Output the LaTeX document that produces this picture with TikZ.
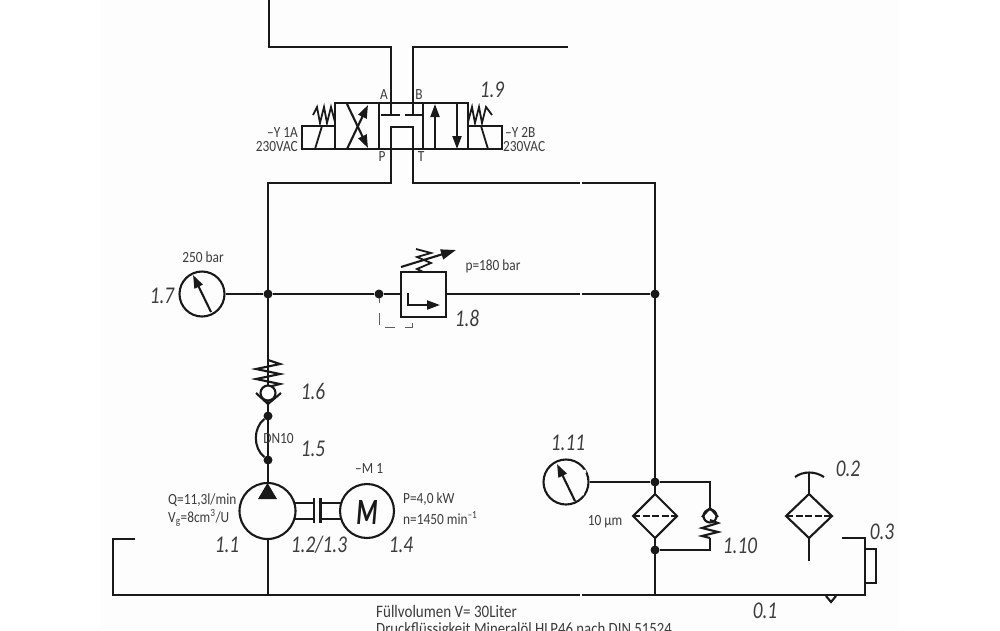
\documentclass[tikz,border=0pt]{standalone}
\usepackage{fontspec}
\setmainfont{Carlito}
\newfontfamily\narrowfont[FakeStretch=0.86]{Carlito}
\newfontfamily\numfont[FakeStretch=0.8]{Carlito}
\newfontfamily\motorfont[FakeStretch=0.66]{Carlito}
\usetikzlibrary{arrows.meta}
\definecolor{ink}{gray}{0.1}
\definecolor{paper}{gray}{0.992}
\tikzset{
  x=1pt,y=-1pt,
  wire/.style={line width=2.1pt,line cap=butt,line join=miter,color=ink},
  thin wire/.style={wire,line width=1.8pt},
  blob/.style={circle,fill=ink,inner sep=0pt,minimum size=9pt},
  sym/.style={circle,draw=ink,line width=2.1pt,inner sep=0pt},
  lab/.style={font=\narrowfont\fontsize{15.5}{15.5}\selectfont,color=ink!85,inner sep=0pt},
  num/.style={font=\numfont\itshape\fontsize{24}{24}\selectfont,color=ink!85,inner sep=0pt},
  tip/.style={-{Triangle[length=13pt,width=9pt]}},
  bigtip/.style={-{Triangle[length=15pt,width=10pt]}},
}
\begin{document}
\begin{tikzpicture}
\useasboundingbox (0,0) rectangle (1000,630);
\fill[white] (0,0) rectangle (1000,630);
\fill[paper] (100,0) rectangle (898,630);
% free ends and junctions
\coordinate (tl) at (269,0);
\coordinate (tr) at (568,47);
\coordinate (A) at (391,103);
\coordinate (B) at (413,103);
\coordinate (P) at (391,149);
\coordinate (T) at (413,149);
% lines to the valve
\draw[wire] (tl) |- (391,47) -- (A);
\draw[wire] (tr) -- (413,47) -- (B);
\draw[wire] (A) -- (391,115) (381,115) -- (400,115);
\draw[wire] (B) -- (413,115) (405,115) -- (422,115);
\draw[wire] (P) -- (391,127) -- (413,127) -- (T);
\draw[wire] (P) -- (391,183) -- (268,183) -- (268,595);
\draw[wire] (T) -- (413,183) -- (655,183) -- (655,595);
% valve
\node[draw=ink,line width=2.1pt,minimum width=133pt,minimum height=46pt,inner sep=0pt] (valve) at (401.5,126) {};
\draw[wire] (379,103) -- (379,149) (423,103) -- (423,149);
\draw[wire,tip] (347,149) -- (368,105);
\draw[wire,tip] (347,104) -- (368,148);
\draw[wire,tip] (435,149) -- (435,104);
\draw[wire,tip] (457,104) -- (457,149);
% solenoids
\draw[wire] (335,126) -- (302,126) -- (302,149) -- (335,149);
\draw[thin wire] (315,149) -- (322,126);
\draw[wire] (468,126) -- (502,126) -- (502,149) -- (468,149);
\draw[thin wire] (481,126) -- (488,149);
\draw[thin wire] (313,115) -- (317,107) -- (320,123) -- (324,107) -- (327,123) -- (331,107) -- (335,122);
\draw[thin wire] (468,122) -- (472,107) -- (475,123) -- (479,107) -- (482,123) -- (486,107) -- (492,115);
\node[lab] (la) at (384,95) {A};
\node[lab] (lb) at (419,95) {B};
\node[lab] (lp) at (382,157) {P};
\node[lab] (lt) at (421,157) {T};
\node[lab,anchor=east] (y1) at (298,133) {–Y 1A};
\node[lab,anchor=east] (y1v) at (298,147) {230VAC};
\node[lab,anchor=west] (y2) at (505,132) {–Y 2B};
\node[lab,anchor=west] (y2v) at (503,147) {230VAC};
\node[num] (n19) at (492,90) {1.9};
% main pressure line
\node[sym,minimum size=45pt] (g7) at (202,294) {};
\node[blob] (j1) at (268,294) {};
\node[blob] (j2) at (379,294) {};
\node[blob] (j3) at (655,294) {};
\node[draw=ink,line width=2.1pt,minimum width=45pt,minimum height=45pt,inner sep=0pt] (relief) at (423.5,294.5) {};
\draw[wire] (g7) -- (j1) -- (j2) -- (relief.west |- j2);
\draw[wire] (relief.east |- j2) -- (j3);
\draw[wire,tip] (211,312) -- (193,275);
\draw[wire,tip] (408,293) -- (408,305) -- (440,305);
\draw[thin wire] (423,272) -- (417,269) -- (431,263) -- (417,257) -- (431,253) -- (416,249);
\draw[wire,bigtip] (401,267) -- (456,250);
\draw[line width=1pt,color=ink!70] (379,298) -- (379,303) (379,313) -- (379,325) (385,327) -- (395,327) (405,327) -- (412,327) -- (412,323);
\node[lab] (p180) at (493,266) {p=180 bar};
\node[lab] (b250) at (203,257) {250 bar};
\node[num] (n17) at (162,296) {1.7};
\node[num] (n18) at (467,318) {1.8};
% check valve 1.6 and hose 1.5
\draw[wire] (268,360) -- (280,364) -- (256,369) -- (280,374) -- (256,379) -- (280,384) -- (268,387);
\node[sym,minimum size=15pt,fill=paper] (ball6) at (268,393) {};
\draw[wire] (256,393) -- (268,404) -- (281,393);
\node[blob] (h1) at (268,416) {};
\node[blob] (h2) at (268,460) {};
\draw[wire] (h1) .. controls (253,428) and (253,448) .. (h2);
\node[lab] (dn) at (278.5,439) {DN10};
\node[num] (n16) at (313,391) {1.6};
\node[num] (n15) at (313,449) {1.5};
% pump and motor
\node[sym,minimum size=56pt,fill=paper] (pump) at (267.5,511) {};
\fill[ink] (267.5,483) -- (258,499) -- (277,499) -- cycle;
\node[sym,minimum size=54pt] (motor) at (367,511) {};
\draw[wire] (295,503) -- (314,503) (295,519) -- (314,519);
\draw[wire] (320,503) -- (341,503) (320,519) -- (341,519);
\draw[wire] (314,498) -- (314,523) (320.5,498) -- (320.5,523);
\node[font=\motorfont\bfseries\itshape\fontsize{37}{37}\selectfont,color=ink,inner sep=0pt] (M) at (367,512) {M};
\node[lab,anchor=west] (m1) at (355,469) {–M 1};
\node[lab,anchor=west] (q) at (168,500) {Q=11,3l/min};
\node[lab,anchor=west] (v) at (168,518) {V\textsubscript{g}=8cm\textsuperscript{3}/U};
\node[lab,anchor=west] (pk) at (403,499) {P=4,0 kW};
\node[lab,anchor=west] (nm) at (403,518) {n=1450 min\textsuperscript{–1}};
\node[num] (n11) at (227,545) {1.1};
\node[num] (n12) at (319,545) {1.2/1.3};
\node[num] (n14) at (401,545) {1.4};
% filter 1.10 branch
\node[sym,minimum size=45pt] (g11) at (566,482) {};
\node[blob] (f1) at (655,482) {};
\node[blob] (f2) at (655,550) {};
\draw[wire] (g11) -- (f1) -- (710,482) -- (710,508);
\draw[wire] (710,538) -- (710,550) -- (f2);
\draw[wire,tip] (575,501) -- (557,464);
\draw[line width=3pt,color=paper] (584,470) -- (585,473) (582,495) -- (583,492);
\draw[wire,fill=paper] (655,494) -- (677,516) -- (655,538) -- (633,516) -- cycle;
\draw[wire,dash pattern=on 7pt off 2.5pt] (633,516) -- (677,516);
\draw[wire] (710,520) -- (718,523) -- (702,528) -- (718,532) -- (702,536) -- (710,538);
\node[sym,minimum size=13pt] (ball10) at (710,516) {};
\draw[wire] (702,517) -- (710,508) -- (718,517);
\node[lab] (um) at (605,522) {10 µm};
\node[num] (n111) at (568,443) {1.11};
\node[num] (n110) at (740,546) {1.10};
% tank line
\draw[wire] (135,539) -- (113,539) -- (113,595) -- (865,595) -- (865,538) -- (842,538);
\draw[wire] (865,549) -- (876,549) -- (876,583) -- (865,583);
\draw[wire] (826,596) -- (831,602) -- (836,596);
% filter 0.2
\draw[wire] (809,494) -- (832,516) -- (809,538) -- (786,516) -- cycle;
\draw[wire,dash pattern=on 7pt off 2.5pt] (786,516) -- (832,516);
\draw[wire] (809,494) -- (809,473) (809,538) -- (809,561);
\draw[wire] (795,477) .. controls (803,471) and (815,471) .. (824,477);
\node[num] (n02) at (848,469) {0.2};
\node[num] (n03) at (882,532) {0.3};
\node[num] (n01) at (765,611) {0.1};
% page joins
\draw[line width=1.5pt,color=paper] (581,181) -- (581,185) (581,292) -- (581,296) (581,593) -- (581,597);
\node[lab,anchor=west,font=\narrowfont\fontsize{17.5}{17.5}\selectfont] (t1) at (376,611) {Füllvolumen V= 30Liter};
\node[lab,anchor=west,font=\narrowfont\fontsize{17.2}{17.2}\selectfont] (t2) at (376,630) {Druckflüssigkeit Mineralöl HLP46 nach DIN 51524};
\end{tikzpicture}
\end{document}
